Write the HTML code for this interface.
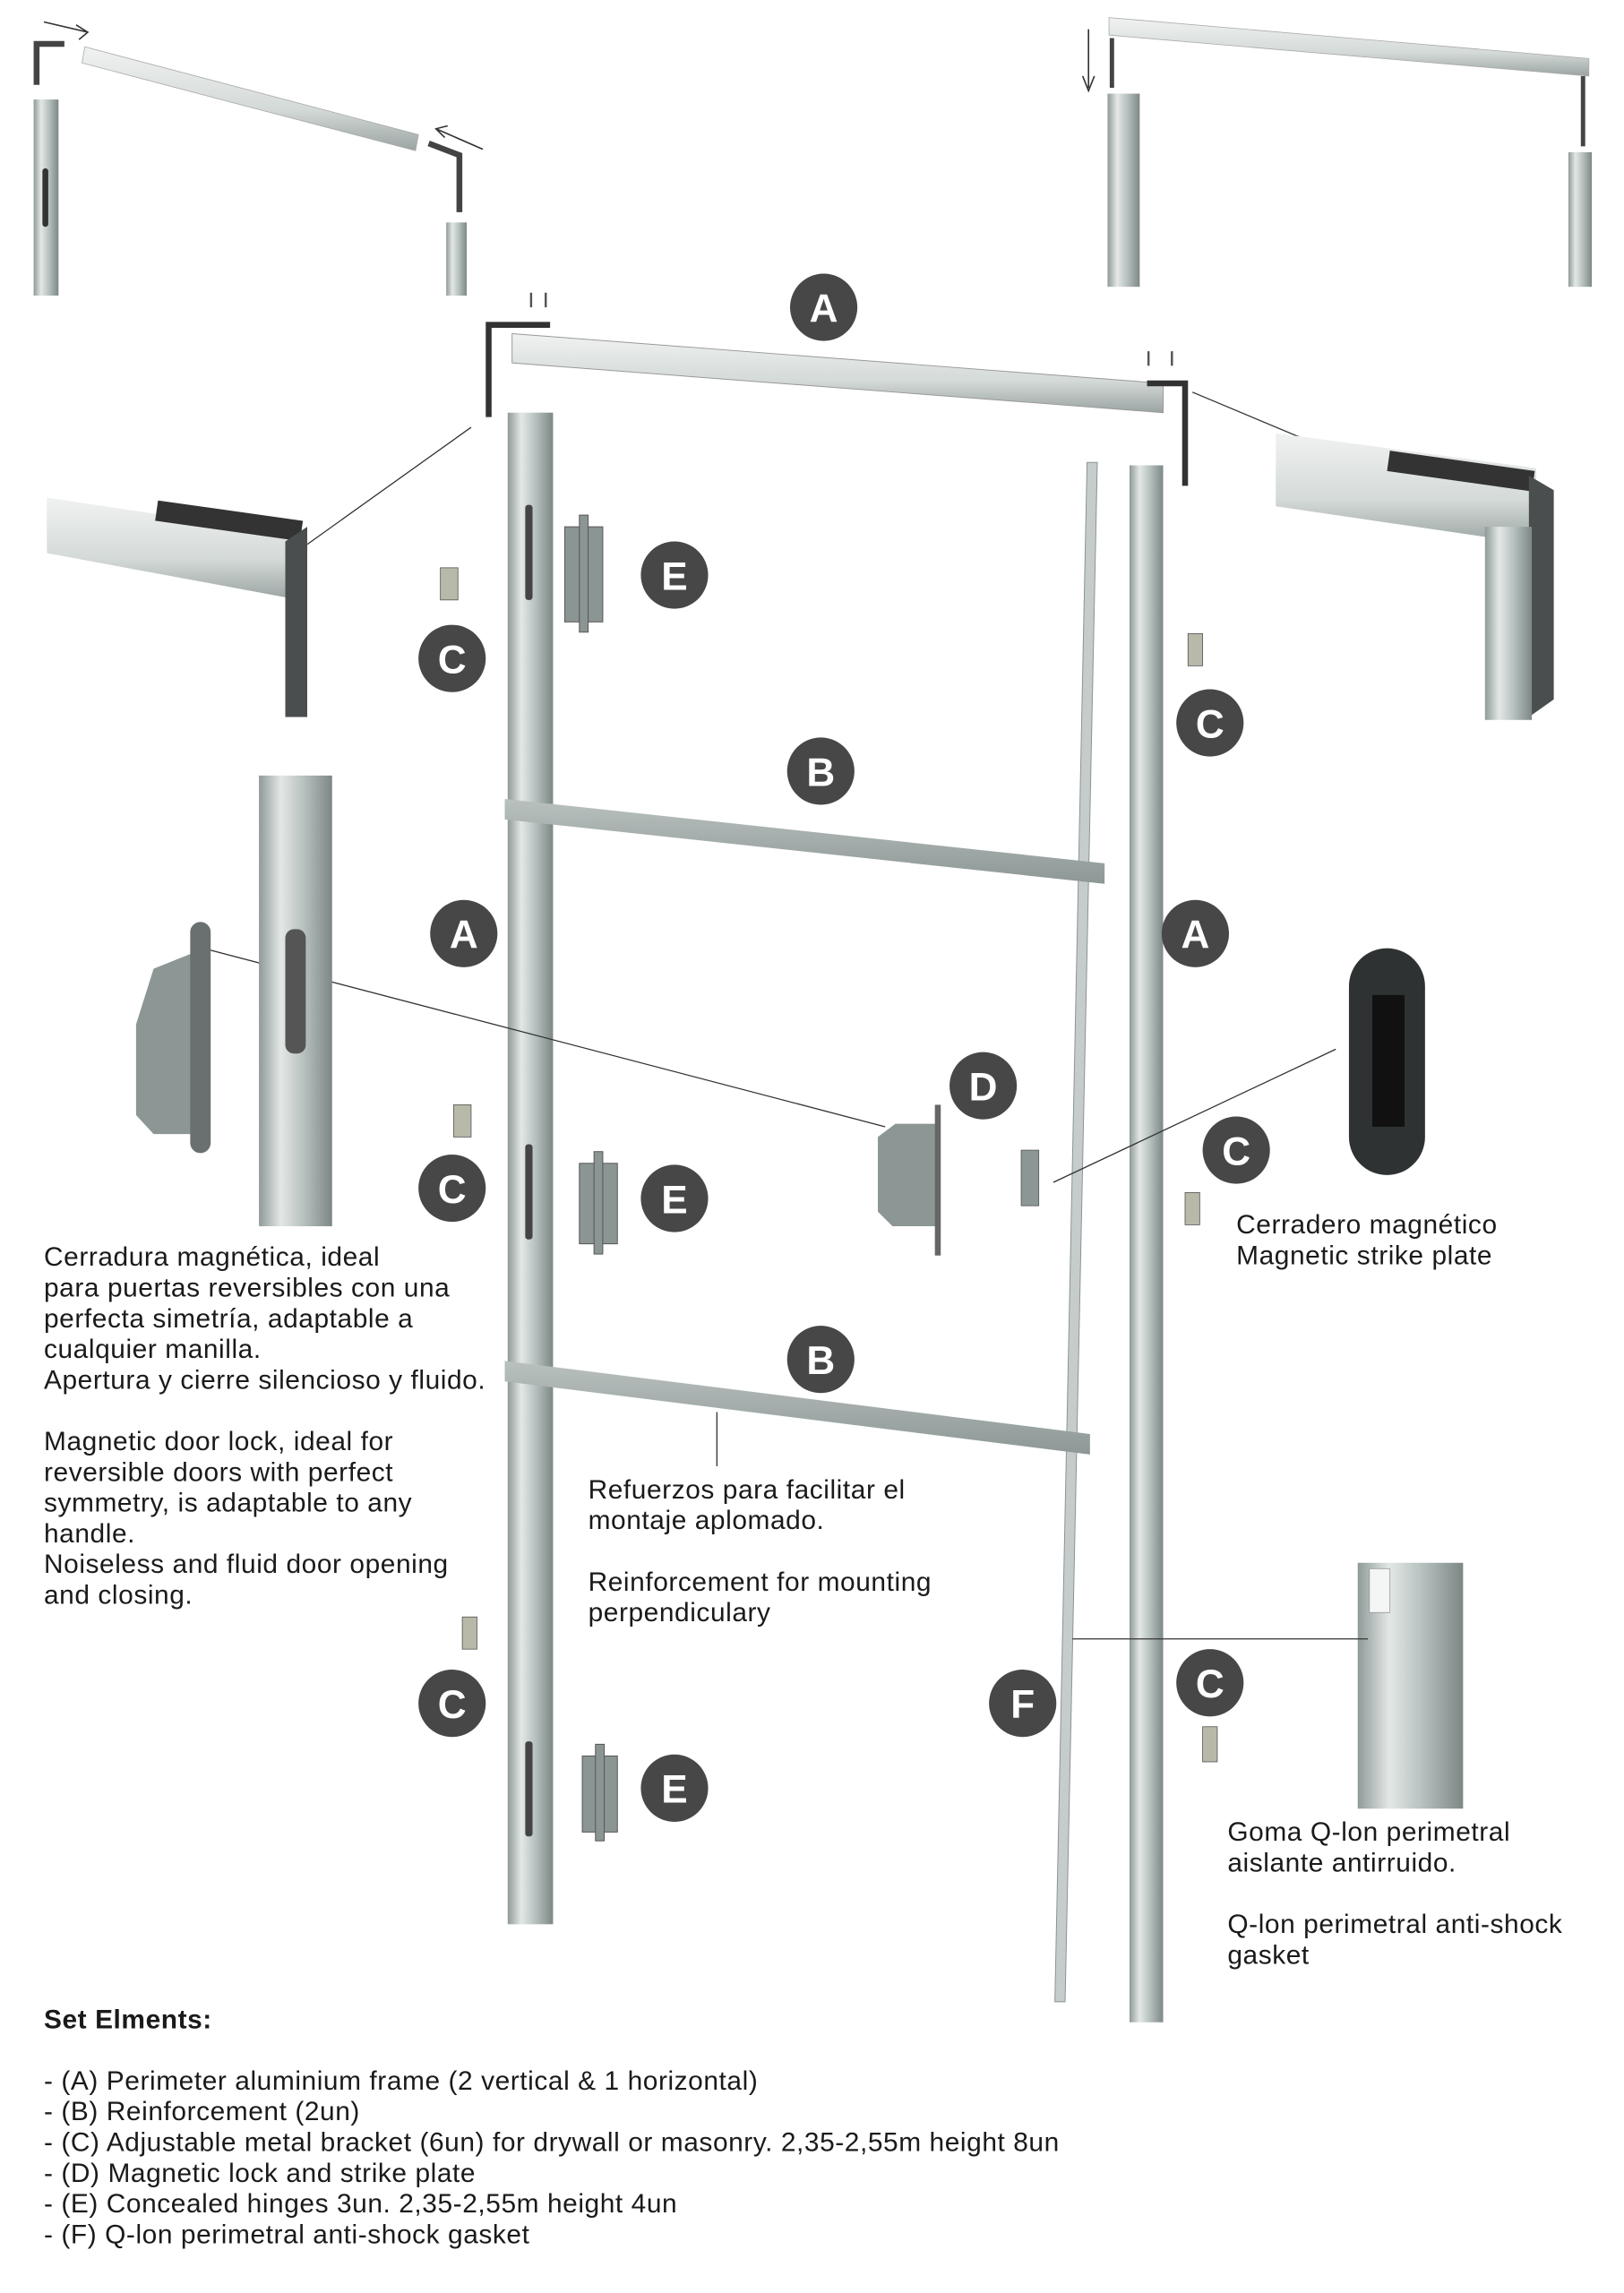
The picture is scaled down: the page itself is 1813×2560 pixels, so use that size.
<!DOCTYPE html>
<html><head><meta charset="utf-8"><style>
html,body{margin:0;padding:0;background:#fff}
svg{display:block}
text{font-family:"Liberation Sans",sans-serif;fill:#1a1a1a}
.t{font-size:18.3px;letter-spacing:0.35px}
.b{font-size:27px;font-weight:bold;fill:#fff;text-anchor:middle}
</style></head><body>
<svg width="1813" height="2560" viewBox="0 0 1110 1567" preserveAspectRatio="none" xmlns="http://www.w3.org/2000/svg">
<defs>
<linearGradient id="al" x1="0" x2="1" y1="0" y2="0">
<stop offset="0" stop-color="#8f9a98"/><stop offset=".3" stop-color="#e3e8e6"/><stop offset=".6" stop-color="#b8c2c0"/><stop offset="1" stop-color="#7d8886"/></linearGradient>
<linearGradient id="alh" x1="0" x2="0" y1="0" y2="1">
<stop offset="0" stop-color="#f0f2f1"/><stop offset=".6" stop-color="#d4dad8"/><stop offset="1" stop-color="#9aa4a2"/></linearGradient>
<linearGradient id="bar" x1="0" x2="0" y1="0" y2="1">
<stop offset="0" stop-color="#b9c1bf"/><stop offset="1" stop-color="#8d9795"/></linearGradient>
</defs>

<path d="M25 58 V30 H44" fill="none" stroke="#444" stroke-width="4"/>
<rect x="23" y="68" width="17" height="134" fill="url(#al)"/>
<rect x="29" y="115" width="4" height="40" rx="2" fill="#333"/>
<polygon points="58,32 286,92 284,103 56,43" fill="url(#alh)" stroke="#aaa" stroke-width=".5"/>
<path d="M293 98 L314 106 V145" fill="none" stroke="#444" stroke-width="4"/>
<rect x="305" y="152" width="14" height="50" fill="url(#al)"/>
<path d="M30 15 L60 22 M52 17 L60 22 L54 27" stroke="#333" fill="none"/>
<path d="M330 102 L298 88 M306 86 L298 88 L304 94" stroke="#333" fill="none"/>

<polygon points="758,12 1086,40 1086,52 758,24" fill="url(#alh)" stroke="#aaa" stroke-width=".5"/>
<path d="M760 26 V60" stroke="#444" stroke-width="3"/>
<path d="M1082 52 V100" stroke="#444" stroke-width="3"/>
<rect x="757" y="64" width="22" height="132" fill="url(#al)"/>
<rect x="1072" y="104" width="16" height="92" fill="url(#al)"/>
<path d="M744 20 V60 M740 52 L744 62 L748 52" stroke="#333" fill="none"/>

<polygon points="350,228 795,262 795,282 350,248" fill="url(#alh)" stroke="#999" stroke-width=".6"/>
<path d="M334 285 V222 H376" fill="none" stroke="#333" stroke-width="4"/>
<path d="M784 262 H810 V332" fill="none" stroke="#333" stroke-width="4"/>
<path d="M363 200 v10 M373 200 v10 M785 240 v10 M801 240 v10" stroke="#555" stroke-width="1.5"/>
<line x1="322" y1="292" x2="210" y2="372" stroke="#333" stroke-width=".8"/>
<line x1="815" y1="268" x2="963" y2="330" stroke="#333" stroke-width=".8"/>

<rect x="347" y="282" width="31" height="1033" fill="url(#al)"/>
<rect x="359" y="345" width="5" height="65" rx="2" fill="#444"/>
<rect x="359" y="782" width="5" height="65" rx="2" fill="#444"/>
<rect x="359" y="1190" width="5" height="65" rx="2" fill="#444"/>
<rect x="772" y="318" width="23" height="1064" fill="url(#al)"/>
<polygon points="743,316 750,316 728,1368 721,1368" fill="#c5cccb" stroke="#8a9493" stroke-width=".6"/>

<polygon points="345,546 755,590 755,604 345,560" fill="url(#bar)"/>
<polygon points="345,930 745,980 745,994 345,944" fill="url(#bar)"/>
<line x1="490" y1="965" x2="490" y2="1002" stroke="#333" stroke-width=".8"/>

<g fill="#8b9593" stroke="#555" stroke-width=".6">
<rect x="386" y="360" width="26" height="65"/><rect x="396" y="352" width="6" height="80"/>
<rect x="396" y="795" width="26" height="55"/><rect x="406" y="787" width="6" height="70"/>
<rect x="398" y="1200" width="24" height="52"/><rect x="407" y="1192" width="6" height="66"/>
</g>
<g fill="#b8b9a8" stroke="#555" stroke-width=".5">
<rect x="301" y="388" width="12" height="22"/><rect x="812" y="433" width="10" height="22"/>
<rect x="310" y="755" width="12" height="22"/><rect x="810" y="815" width="10" height="22"/>
<rect x="316" y="1105" width="10" height="22"/><rect x="822" y="1180" width="10" height="24"/>
</g>

<polygon points="600,777 612,768 640,768 640,838 610,838 600,828" fill="#8c9695"/>
<rect x="639" y="755" width="4" height="103" fill="#666"/>
<rect x="698" y="786" width="12" height="38" fill="#8c9695" stroke="#555" stroke-width=".5"/>
<line x1="720" y1="808" x2="913" y2="717" stroke="#333" stroke-width=".8"/>
<line x1="135" y1="647" x2="605" y2="770" stroke="#333" stroke-width=".8"/>

<polygon points="32,340 205,366 205,410 32,378" fill="url(#alh)"/>
<rect x="108" y="342" width="100" height="14" fill="#333" transform="rotate(8 108 342)"/>
<polygon points="195,370 210,360 210,490 195,490" fill="#4a4e4e"/>
<polygon points="872,296 1050,320 1050,372 872,346" fill="url(#alh)"/>
<rect x="950" y="308" width="100" height="14" fill="#333" transform="rotate(8 950 308)"/>
<polygon points="1045,325 1062,335 1062,478 1045,490" fill="#4a4e4e"/>
<rect x="1015" y="360" width="32" height="132" fill="url(#al)"/>

<rect x="177" y="530" width="50" height="308" fill="url(#al)"/>
<rect x="195" y="635" width="14" height="85" rx="6" fill="#555"/>
<polygon points="93,700 105,662 135,650 135,775 105,775 93,762" fill="#8c9695"/>
<rect x="130" y="630" width="14" height="158" rx="7" fill="#6a7070"/>
<rect x="922" y="648" width="52" height="155" rx="26" fill="#2e3233"/>
<rect x="938" y="680" width="22" height="90" fill="#111"/>
<rect x="928" y="1068" width="72" height="168" fill="url(#al)"/>
<rect x="936" y="1072" width="14" height="30" fill="#f4f6f6" stroke="#999" stroke-width=".5"/>
<line x1="733" y1="1120" x2="935" y2="1120" stroke="#333" stroke-width=".8"/>

<g fill="#474747">
<circle cx="563" cy="210" r="23"/><circle cx="461" cy="393" r="23"/><circle cx="309" cy="450" r="23"/><circle cx="827" cy="494" r="23"/>
<circle cx="561" cy="527" r="23"/><circle cx="317" cy="638" r="23"/><circle cx="817" cy="638" r="23"/><circle cx="672" cy="742" r="23"/>
<circle cx="845" cy="786" r="23"/><circle cx="461" cy="819" r="23"/><circle cx="309" cy="812" r="23"/><circle cx="561" cy="929" r="23"/>
<circle cx="309" cy="1164" r="23"/><circle cx="699" cy="1164" r="23"/><circle cx="827" cy="1150" r="23"/><circle cx="461" cy="1222" r="23"/>
</g>
<text class="b" x="563" y="220">A</text><text class="b" x="461" y="403">E</text><text class="b" x="309" y="460">C</text><text class="b" x="827" y="504">C</text>
<text class="b" x="561" y="537">B</text><text class="b" x="317" y="648">A</text><text class="b" x="817" y="648">A</text><text class="b" x="672" y="752">D</text>
<text class="b" x="845" y="796">C</text><text class="b" x="461" y="829">E</text><text class="b" x="309" y="822">C</text><text class="b" x="561" y="939">B</text>
<text class="b" x="309" y="1174">C</text><text class="b" x="699" y="1174">F</text><text class="b" x="827" y="1160">C</text><text class="b" x="461" y="1232">E</text>

<text class="t" x="30" y="865">Cerradura magnética, ideal</text>
<text class="t" x="30" y="886">para puertas reversibles con una</text>
<text class="t" x="30" y="907">perfecta simetría, adaptable a</text>
<text class="t" x="30" y="928">cualquier manilla.</text>
<text class="t" x="30" y="949">Apertura y cierre silencioso y fluido.</text>
<text class="t" x="30" y="991">Magnetic door lock, ideal for</text>
<text class="t" x="30" y="1012">reversible doors with perfect</text>
<text class="t" x="30" y="1033">symmetry, is adaptable to any</text>
<text class="t" x="30" y="1054">handle.</text>
<text class="t" x="30" y="1075">Noiseless and fluid door opening</text>
<text class="t" x="30" y="1096">and closing.</text>
<text class="t" x="845" y="843">Cerradero magnético</text>
<text class="t" x="845" y="864">Magnetic strike plate</text>
<text class="t" x="402" y="1024">Refuerzos para facilitar el</text>
<text class="t" x="402" y="1045">montaje aplomado.</text>
<text class="t" x="402" y="1087">Reinforcement for mounting</text>
<text class="t" x="402" y="1108">perpendiculary</text>
<text class="t" x="839" y="1258">Goma Q-lon perimetral</text>
<text class="t" x="839" y="1279">aislante antirruido.</text>
<text class="t" x="839" y="1321">Q-lon perimetral anti-shock</text>
<text class="t" x="839" y="1342">gasket</text>
<text class="t" x="30" y="1386" style="font-weight:bold">Set Elments:</text>
<text class="t" x="30" y="1428">- (A) Perimeter aluminium  frame (2 vertical &amp; 1 horizontal)</text>
<text class="t" x="30" y="1449">- (B) Reinforcement (2un)</text>
<text class="t" x="30" y="1470">- (C) Adjustable metal bracket (6un) for drywall or masonry. 2,35-2,55m height 8un</text>
<text class="t" x="30" y="1491">- (D) Magnetic lock and strike plate</text>
<text class="t" x="30" y="1512">- (E) Concealed hinges 3un. 2,35-2,55m height 4un</text>
<text class="t" x="30" y="1533">- (F) Q-lon perimetral anti-shock gasket</text>
</svg>
</body></html>
